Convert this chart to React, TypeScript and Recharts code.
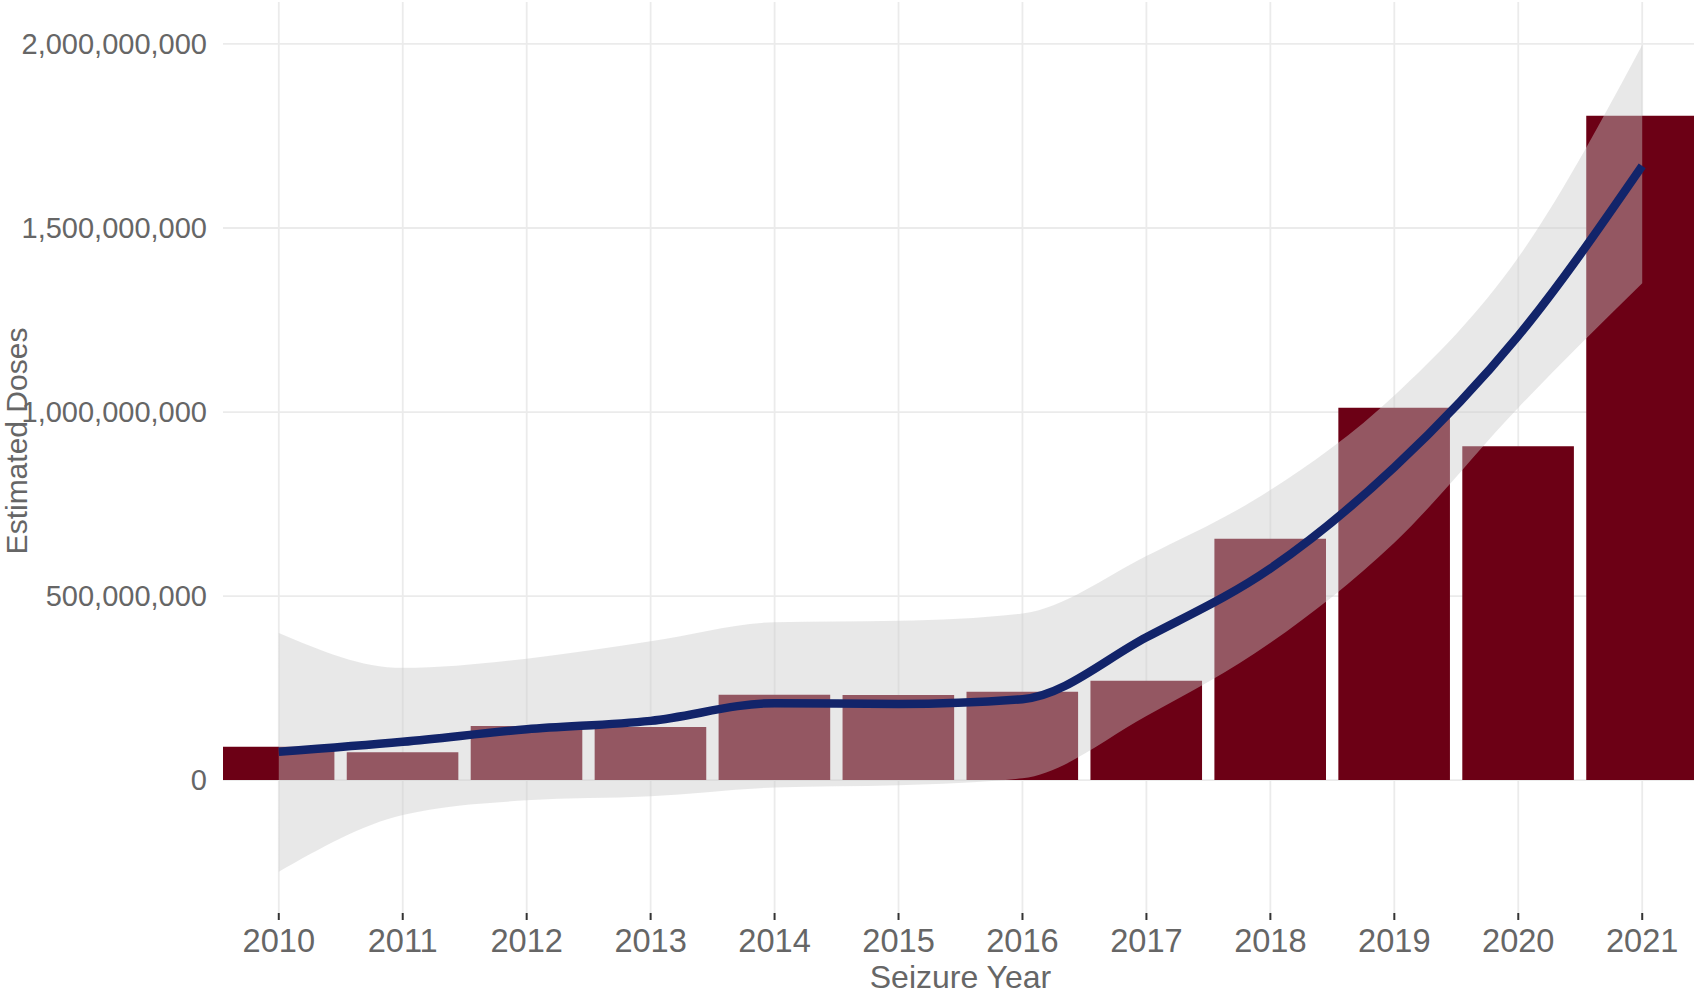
import { ComposedChart, Bar, Area, Line, XAxis, YAxis, CartesianGrid } from 'recharts';

const years = [2010, 2011, 2012, 2013, 2014, 2015, 2016, 2017, 2018, 2019, 2020, 2021];

// estimated doses seized per year (bars)
const doses = [91e6, 76e6, 147e6, 144e6, 232e6, 231e6, 240e6, 270e6, 656e6, 1012e6, 907e6, 1805e6];

// smoothed trend and its confidence band
const trend = [77e6, 104e6, 138e6, 161e6, 209e6, 207e6, 220e6, 388e6, 575e6, 850e6, 1207e6, 1669e6];
const bandLow = [-249e6, -95e6, -55e6, -44e6, -20e6, -14e6, 5e6, 174e6, 373e6, 645e6, 1012e6, 1350e6];
const bandHigh = [400e6, 305e6, 330e6, 377e6, 429e6, 433e6, 453e6, 609e6, 788e6, 1045e6, 1420e6, 1997e6];

const yTicks = [0, 5e8, 1e9, 1.5e9, 2e9];

const data = years.map((year, i) => ({
  year,
  doses: doses[i],
  trend: trend[i],
  band: [bandLow[i], bandHigh[i]],
}));

const FONT = '"Liberation Sans", Arial, Helvetica, sans-serif';
const TEXT = '#666666';

const renderYTitle = (props: any) => {
  const vb = props.viewBox ?? { x: 0, y: 2, width: 223, height: 911 };
  const cx = vb.x + 16;
  const cy = vb.y + vb.height / 2 - 16.5;
  return (
    <text
      x={cx}
      y={cy}
      dy="0.355em"
      transform={`rotate(-90 ${cx} ${cy})`}
      textAnchor="middle"
      fontSize={30}
      fill={TEXT}
      fontFamily={FONT}
    >
      Estimated Doses
    </text>
  );
};

export default function App() {
  return (
    <div
      style={{
        position: 'absolute',
        left: 0,
        top: 0,
        width: 1694,
        height: 994,
        overflow: 'hidden',
        background: '#ffffff',
        fontFamily: FONT,
      }}
    >
      <ComposedChart width={1700} height={994} data={data} margin={{ top: 2, right: 2, bottom: 0, left: 0 }}>
        <CartesianGrid stroke="#ebebeb" strokeWidth={1.8} syncWithTicks />
        <XAxis
          dataKey="year"
          type="number"
          domain={[2009.55, 2021.45]}
          allowDataOverflow
          ticks={years}
          interval={0}
          height={81}
          axisLine={false}
          tickSize={7}
          tickMargin={8.6}
          tickLine={{ stroke: '#333333', strokeWidth: 2 }}
          tick={{ fontSize: 32.6, fill: TEXT, fontFamily: FONT }}
          label={{ value: 'Seizure Year', position: 'insideBottom', offset: 6, fontSize: 32, fill: TEXT, fontFamily: FONT }}
        />
        <YAxis
          type="number"
          domain={[-361e6, 2114e6]}
          allowDataOverflow
          ticks={yTicks}
          interval={0}
          width={223}
          axisLine={false}
          tickLine={false}
          tickSize={0}
          tickMargin={16}
          tickFormatter={(v: number) => v.toLocaleString('en-US')}
          tick={{ fontSize: 29, fill: TEXT, fontFamily: FONT }}
          label={renderYTitle}
        />
        <Bar dataKey="doses" fill="#6c0015" barSize={111.6} isAnimationActive={false} zIndex={300} />
        <Area
          dataKey="band"
          type="monotone"
          fill="#c9c9c9"
          fillOpacity={0.43}
          stroke="none"
          activeDot={false}
          isAnimationActive={false}
          zIndex={350}
        />
        <Line
          dataKey="trend"
          type="monotone"
          stroke="#12246a"
          strokeWidth={8.5}
          dot={false}
          activeDot={false}
          isAnimationActive={false}
          zIndex={400}
        />
      </ComposedChart>
    </div>
  );
}
